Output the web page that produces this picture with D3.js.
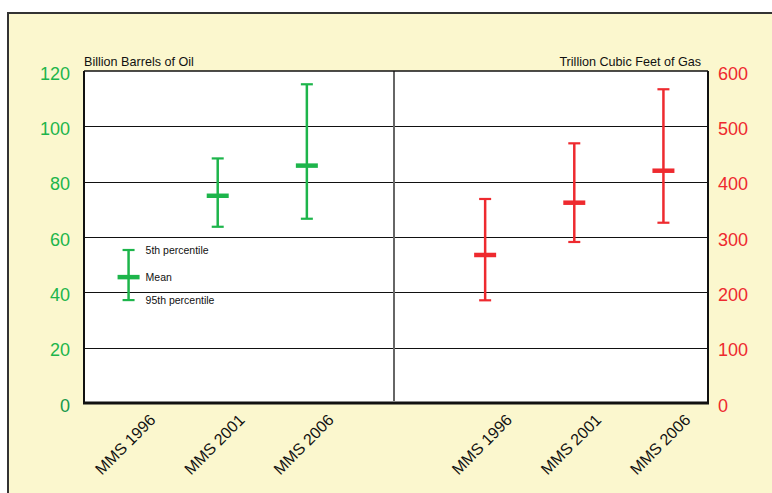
<!DOCTYPE html>
<html>
<head>
<meta charset="utf-8">
<script src="https://cdn.jsdelivr.net/npm/d3@7"></script>
<style>
html,body{margin:0;padding:0;background:#fff;}
svg{display:block;font-family:"Liberation Sans",Arial,sans-serif;}
</style>
</head>
<body>
<svg id="chart" width="772" height="493"></svg>
<script>
// ---- data ----
const categories = ["MMS 1996", "MMS 2001", "MMS 2006"];
// Oil (billion barrels): 95th percentile (low), mean, 5th percentile (high)
const oilLow  = [37.2, 63.7, 66.6];
const oilMean = [45.5, 74.9, 85.8];
const oilHigh = [55.3, 88.4, 115.2];
// Gas (trillion cubic feet)
const gasLow  = [185.6, 291, 325.8];
const gasMean = [267.5, 362, 419.8];
const gasHigh = [368.7, 469.3, 567];
const oilTicks = [0, 20, 40, 60, 80, 100, 120];
const gasTicks = [0, 100, 200, 300, 400, 500, 600];
const legendLabels = ["5th percentile", "Mean", "95th percentile"];

// ---- layout ----
const svg = d3.select("#chart");
const L = 84, R = 708, T = 71, B = 403;
const green = "#1db54b", red = "#ee2a2f";

svg.append("rect").attr("x", 8).attr("y", 13).attr("width", 820).attr("height", 520)
  .attr("fill", "#fbf7ce").attr("stroke", "#333").attr("stroke-width", 2);

const slots = [...categories.map(c => "oil|" + c), "gap", ...categories.map(c => "gas|" + c)];
const x = d3.scalePoint().domain(slots).range([L, R]).padding(0.5);
const yOil = d3.scaleLinear().domain([0, 120]).range([B, T]);
const yGas = d3.scaleLinear().domain([0, 600]).range([B, T]);

// plot area
svg.append("rect").attr("x", L).attr("y", T).attr("width", R - L).attr("height", B - T).attr("fill", "#fff");

// grid lines
svg.append("g").selectAll("line").data(oilTicks.filter(t => t > 0 && t < 120)).join("line")
  .attr("x1", L).attr("x2", R).attr("y1", d => Math.round(yOil(d)) + 0.5).attr("y2", d => Math.round(yOil(d)) + 0.5)
  .attr("stroke", "#111").attr("stroke-width", 1.2);

// divider
const divX = x("gap");
svg.append("line").attr("x1", divX - 2).attr("x2", divX - 2).attr("y1", T).attr("y2", B - 2)
  .attr("stroke", "#666").attr("stroke-width", 2);

// borders
svg.append("line").attr("x1", L).attr("x2", R).attr("y1", T).attr("y2", T).attr("stroke", "#111").attr("stroke-width", 1.5);
svg.append("line").attr("x1", L).attr("x2", L).attr("y1", T).attr("y2", B).attr("stroke", "#111").attr("stroke-width", 2);
svg.append("line").attr("x1", R).attr("x2", R).attr("y1", T).attr("y2", B + 1).attr("stroke", "#111").attr("stroke-width", 2);
svg.append("line").attr("x1", L - 1).attr("x2", R + 1).attr("y1", B).attr("y2", B).attr("stroke", "#111").attr("stroke-width", 3);

// axes (labels only)
const leftAxis = d3.axisLeft(yOil).tickValues(oilTicks).tickSize(0).tickPadding(14);
const gl = svg.append("g").attr("transform", `translate(${L},0)`).call(leftAxis);
gl.select(".domain").remove();
gl.selectAll("text").attr("font-size", 18).attr("fill", d => d === 0 ? "#16994a" : green)
  .attr("font-family", "Liberation Sans, Arial, sans-serif").attr("dy", "0.45em");

const rightAxis = d3.axisRight(yGas).tickValues(gasTicks).tickSize(0).tickPadding(10);
const gr = svg.append("g").attr("transform", `translate(${R},0)`).call(rightAxis);
gr.select(".domain").remove();
gr.selectAll("text").attr("font-size", 18).attr("fill", red)
  .attr("font-family", "Liberation Sans, Arial, sans-serif").attr("dy", "0.45em");

// x labels
const xl = svg.append("g");
slots.filter(s => s !== "gap").forEach(s => {
  const cx = x(s);
  xl.append("text").attr("transform", `translate(${cx + 28},${B + 18}) rotate(-45)`)
    .attr("text-anchor", "end").attr("font-size", 16).attr("fill", "#111")
    .text(s.split("|")[1]);
});

// titles
svg.append("text").attr("x", L).attr("y", 66).attr("font-size", 12.6).attr("fill", "#111").text("Billion Barrels of Oil");
svg.append("text").attr("x", R - 7).attr("y", 66).attr("text-anchor", "end").attr("font-size", 12.6).attr("fill", "#111").text("Trillion Cubic Feet of Gas");

// error bars
function drawBars(prefix, lows, means, highs, y, color) {
  const g = svg.append("g");
  categories.forEach((c, i) => {
    const cx = x(prefix + "|" + c);
    g.append("line").attr("x1", cx).attr("x2", cx).attr("y1", y(lows[i])).attr("y2", y(highs[i]))
      .attr("stroke", color).attr("stroke-width", 2.5);
    [lows[i], highs[i]].forEach(v => {
      g.append("line").attr("x1", cx - 6).attr("x2", cx + 6).attr("y1", y(v)).attr("y2", y(v))
        .attr("stroke", color).attr("stroke-width", 2.2);
    });
    g.append("line").attr("x1", cx - 11).attr("x2", cx + 11).attr("y1", y(means[i])).attr("y2", y(means[i]))
      .attr("stroke", color).attr("stroke-width", 4.5);
  });
}
drawBars("oil", oilLow, oilMean, oilHigh, yOil, green);
drawBars("gas", gasLow, gasMean, gasHigh, yGas, red);

// legend labels on the MMS 1996 oil bar
const lx = x("oil|" + categories[0]) + 17;
[oilHigh[0], oilMean[0], oilLow[0]].forEach((v, i) => {
  svg.append("text").attr("x", lx).attr("y", yOil(v)).attr("dy", "0.35em")
    .attr("font-size", 10.5).attr("fill", "#111").text(legendLabels[i]);
});
</script>
</body>
</html>
